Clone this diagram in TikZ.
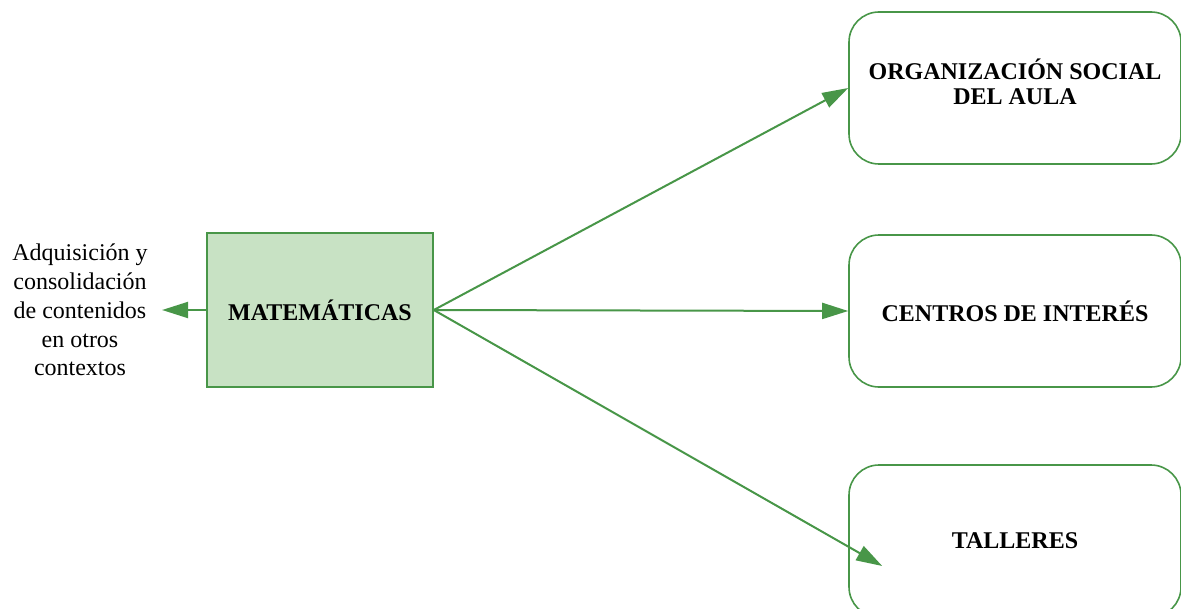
\documentclass[tikz,border=0pt]{standalone}
\usepackage{fontspec}
\setmainfont{Liberation Serif}
\usetikzlibrary{arrows.meta}
\definecolor{linegreen}{RGB}{72, 150, 72}
\definecolor{mathfill}{RGB}{200, 226, 196}
\tikzset{
	areabox/.style={draw=linegreen, line width=0.8pt, rounded corners=15pt, minimum width=166pt, minimum height=76pt, align=center, font=\fontsize{12}{12.5}\selectfont\bfseries},
	mathbox/.style={draw=linegreen, fill=mathfill, line width=0.8pt, minimum width=113pt, minimum height=77pt, font=\fontsize{12}{14}\selectfont\bfseries},
	flow/.style={draw=linegreen, line width=1pt, -{Triangle[length=13pt, width=8pt]}}
}

\begin{document}
\begin{tikzpicture}[x=0.5pt, y=-0.5pt]
			\useasboundingbox (0, 0) rectangle (1181, 609);
			\node [mathbox] (mate) at (320, 310) {MATEMÁTICAS};
			\node [align=center, inner sep=7pt, font=\fontsize{12}{14.4}\selectfont] (adq) at (80, 310) {Adquisición y\\consolidación\\de contenidos\\en otros\\contextos};
			\node [areabox, text height=17pt] (org) at (1015, 88) {ORGANIZACIÓN SOCIAL\\DEL AULA};
			\node [areabox] (cen) at (1015, 311) {CENTROS DE INTERÉS};
			\node [areabox] (tal) at (1015, 541) {TALLERES};
			\coordinate (talend) at ([shift={(17pt, -12.5pt)}]tal.west);
			\draw [flow] (mate.west) -- (adq.east);
			\draw [flow] (mate.east) -- (org.west);
			\draw [flow] (mate.east) -- (cen.west);
			\draw [flow] (mate.east) -- (talend);
		\end{tikzpicture}
\end{document}
